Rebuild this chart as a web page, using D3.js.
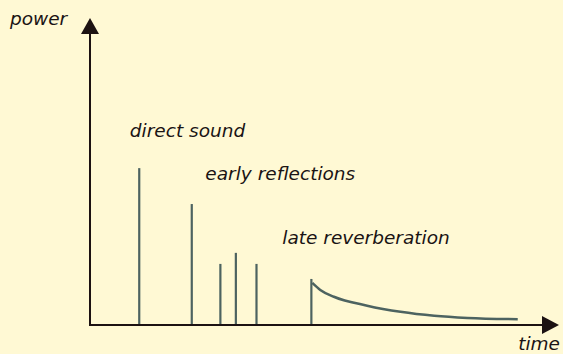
<!DOCTYPE html>
<html>
<head>
<meta charset="utf-8">
<script src="https://cdn.jsdelivr.net/npm/d3@7"></script>
<style>
	html, body { margin:0; padding:0; background:#fff9d4; }
	svg { display:block; }
	.lbl { font-family:"DejaVu Sans", sans-serif; font-style:italic; font-size:18.5px; fill:#1a1414; }
</style>
</head>
<body>
<div id="plot"></div>
<script>
//impulse response sketch: direct sound, early reflections, late reverberation
var impulseTimes = [10.5, 21.7, 27.8, 31.1, 35.5],
	impulsePower = [51.1, 39.4, 19.9, 23.5, 19.9];

var reverbOnset = 47.2, reverbOnsetPower = 15.0;
var decayTimes = [47.4, 49.1, 52.0, 59.1, 66.2, 73.4, 80.5, 91.2],
	decayPower = [13.7, 11.4, 9.2, 6.3, 4.3, 3.0, 2.3, 1.9];

var annotations = ['direct sound', 'early reflections', 'late reverberation'],
	annotationTimes = [8.5, 24.6, 41.0],
	annotationPower = [61.3, 47.2, 26.4];

var W = 563, H = 354;
var m = {t:18, r:4, b:29, l:90};

var svg = d3.select('#plot').append('svg')
	.attr('width', W)
	.attr('height', H);

var scaleX = d3.scaleLinear().domain([0,100]).range([m.l, W - m.r]),
	scaleY = d3.scaleLinear().domain([0,100]).range([H - m.b, m.t]);

var LINE = '#4d6360', AXIS = '#1c1212';

//impulses
svg.selectAll('.impulse')
	.data(impulseTimes)
	.enter()
	.append('line').attr('class','impulse')
	.attr('x1', function(d){return scaleX(d)})
	.attr('x2', function(d){return scaleX(d)})
	.attr('y1', scaleY(0))
	.attr('y2', function(d,i){return scaleY(impulsePower[i])})
	.style('stroke', LINE)
	.style('stroke-width', 2.2);

//reverb onset + decay tail
svg.append('line')
	.attr('x1', scaleX(reverbOnset)).attr('x2', scaleX(reverbOnset))
	.attr('y1', scaleY(0)).attr('y2', scaleY(reverbOnsetPower))
	.style('stroke', LINE)
	.style('stroke-width', 2.2);

var decay = d3.line()
	.x(function(d){return scaleX(d)})
	.y(function(d,i){return scaleY(decayPower[i])})
	.curve(d3.curveMonotoneX);

svg.append('path')
	.datum(decayTimes)
	.attr('d', decay)
	.style('fill', 'none')
	.style('stroke', LINE)
	.style('stroke-width', 2.5);

//axes with arrow heads
var x0 = scaleX(0), y0 = scaleY(0), yTop = scaleY(100), xEnd = scaleX(100);

svg.append('line')
	.attr('x1', x0).attr('x2', xEnd - 14)
	.attr('y1', y0).attr('y2', y0)
	.style('stroke', AXIS).style('stroke-width', 2);
svg.append('line')
	.attr('x1', x0).attr('x2', x0)
	.attr('y1', y0 + 1).attr('y2', yTop + 14)
	.style('stroke', AXIS).style('stroke-width', 2);

svg.append('path')
	.attr('d', 'M' + x0 + ',' + yTop + 'L' + (x0 + 9) + ',' + (yTop + 16) + 'L' + (x0 - 9) + ',' + (yTop + 16) + 'Z')
	.style('fill', AXIS);
svg.append('path')
	.attr('d', 'M' + xEnd + ',' + y0 + 'L' + (xEnd - 17) + ',' + (y0 - 9) + 'L' + (xEnd - 17) + ',' + (y0 + 9) + 'Z')
	.style('fill', AXIS);

//labels
svg.selectAll('.note')
	.data(annotations)
	.enter()
	.append('text').attr('class','lbl note')
	.attr('x', function(d,i){return scaleX(annotationTimes[i])})
	.attr('y', function(d,i){return scaleY(annotationPower[i])})
	.text(function(d){return d});

svg.append('text').attr('class','lbl')
	.attr('x', 10).attr('y', 25)
	.text('power');

svg.append('text').attr('class','lbl')
	.attr('x', W - 3).attr('y', 350)
	.style('text-anchor','end')
	.text('time');
</script>
</body>
</html>
